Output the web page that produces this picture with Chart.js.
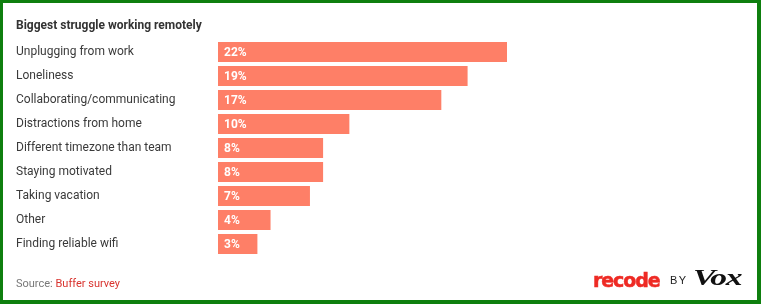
<!DOCTYPE html>
<html>
<head>
<meta charset="utf-8">
<script src="https://cdn.jsdelivr.net/npm/chart.js@4/dist/chart.umd.min.js"></script>
<style>
  html, body { margin: 0; padding: 0; background: #fff; }
  #frame {
    position: relative; width: 761px; height: 304px; box-sizing: border-box;
    border-style: solid; border-color: #0e7f0e;
    border-width: 3px 4px 4px 3px; background: #fff; overflow: hidden;
    font-family: Roboto, "Noto Sans", sans-serif;
  }
  #chart { position: absolute; left: 0; top: 0; width: 754px; height: 297px; }
  .title { position: absolute; left: 13px; top: 15px; font-size: 12px; font-weight: bold; color: #333; }
  .source { position: absolute; left: 13px; top: 274px; font-size: 11px; color: #777; }
  .source span { color: #d9342f; }
  .logo { position: absolute; left: 590px; top: 266px; height: 24px; white-space: nowrap; }
  .recode { position: absolute; left: 0; top: 0; font-family: "DejaVu Sans", sans-serif; font-weight: bold; font-size: 19px; color: #ee2a24; letter-spacing: -1.1px; -webkit-text-stroke: 0.5px #ee2a24; }
  .by { position: absolute; left: 77px; top: 5px; font-family: "Liberation Sans", Arial, sans-serif; font-size: 11px; color: #222; letter-spacing: 1.5px; }
  .vox { position: absolute; left: 100px; top: -5px; font-family: "Liberation Serif", "DejaVu Serif", serif; font-weight: bold; font-style: italic; font-size: 24px; color: #111; transform: scaleX(1.4); transform-origin: left top; letter-spacing: -1px; }
</style>
</head>
<body>
<div id="frame">
  <canvas id="chart" width="754" height="297"></canvas>
  <div class="title">Biggest struggle working remotely</div>
  <div class="source">Source: <span>Buffer survey</span></div>
  <div class="logo"><span class="recode">recode</span><span class="by">BY</span><span class="vox">Vox</span></div>
</div>
<script>
// Survey answers and share of respondents (%)
const categories = [
  "Unplugging from work",
  "Loneliness",
  "Collaborating/communicating",
  "Distractions from home",
  "Different timezone than team",
  "Staying motivated",
  "Taking vacation",
  "Other",
  "Finding reliable wifi"
];
const shares = [22, 19, 17, 10, 8, 8, 7, 4, 3];

// Writes the percentage inside the start of each bar
const valueLabels = {
  id: 'valueLabels',
  afterDatasetsDraw(chart) {
    const ctx = chart.ctx;
    const meta = chart.getDatasetMeta(0);
    ctx.save();
    ctx.font = 'bold 12px Roboto, "Noto Sans", sans-serif';
    ctx.fillStyle = '#ffffff';
    ctx.textAlign = 'left';
    ctx.textBaseline = 'middle';
    meta.data.forEach((bar, i) => {
      ctx.fillText(shares[i] + '%', bar.base + 6, bar.y + 1);
    });
    ctx.restore();
  }
};

new Chart(document.getElementById('chart'), {
  type: 'bar',
  data: {
    labels: categories,
    datasets: [{
      data: shares,
      backgroundColor: '#fe7f67',
      borderWidth: 0,
      categoryPercentage: 1,
      barPercentage: 20 / 24
    }]
  },
  options: {
    indexAxis: 'y',
    responsive: false,
    animation: false,
    events: [],
    layout: { padding: { left: 13, right: 250, top: 37, bottom: 44 } },
    plugins: { legend: { display: false }, tooltip: { enabled: false } },
    scales: {
      x: { display: false, min: 0, max: 22 },
      y: {
        grid: { display: false },
        border: { display: false },
        ticks: {
          crossAlign: 'far',
          color: '#3a3a3a',
          font: { family: 'Roboto, "Noto Sans", sans-serif', size: 12 },
          padding: 0
        },
        afterFit(scale) { scale.width = 202; }
      }
    }
  },
  plugins: [valueLabels]
});
</script>
</body>
</html>
